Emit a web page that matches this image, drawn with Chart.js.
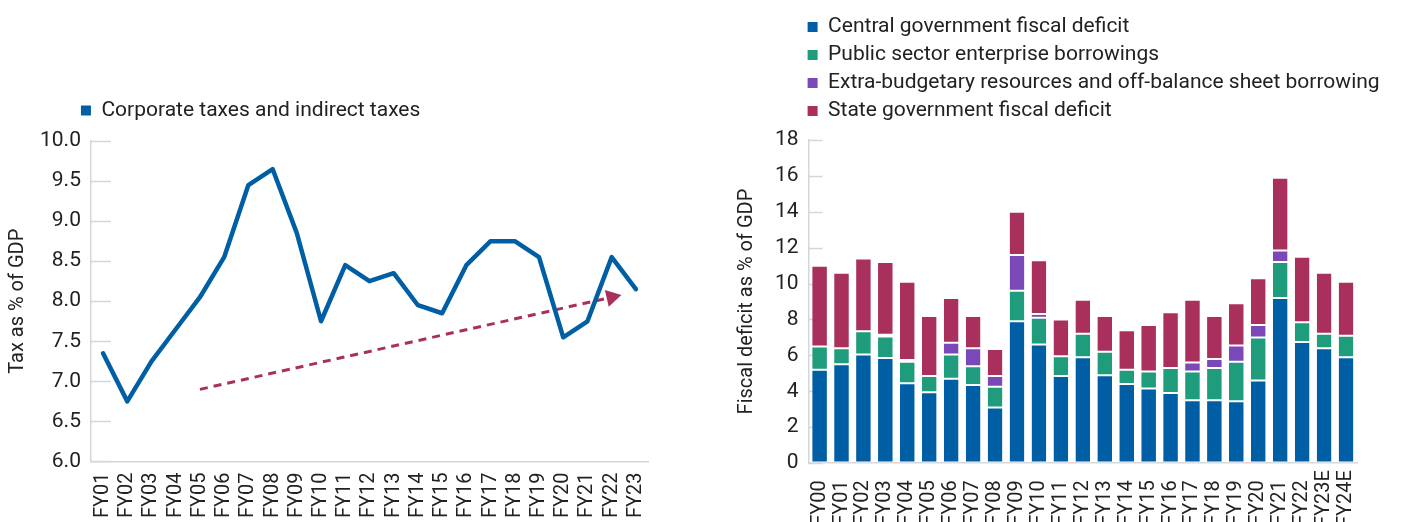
<!DOCTYPE html>
<html>
<head>
<meta charset="utf-8">
<script src="https://cdn.jsdelivr.net/npm/chart.js@4.4.1/dist/chart.umd.min.js"></script>
<style>
  body { margin:0; width:1408px; height:522px; overflow:hidden; position:relative; background:#fff; }
  .box { position:absolute; top:0; }
</style>
</head>
<body>
<div class="box" style="left:0;width:690px;height:529px"><canvas id="taxChart"></canvas></div>
<div class="box" style="left:700px;width:708px;height:534px"><canvas id="deficitChart"></canvas></div>
<script>
// left chart: tax as % of GDP
const taxYears = ['FY01','FY02','FY03','FY04','FY05','FY06','FY07','FY08','FY09','FY10','FY11','FY12',
  'FY13','FY14','FY15','FY16','FY17','FY18','FY19','FY20','FY21','FY22','FY23'];
const taxValues = [7.35,6.75,7.25,7.65,8.05,8.55,9.45,9.65,8.85,7.75,8.45,8.25,
  8.35,7.95,7.85,8.45,8.75,8.75,8.55,7.55,7.75,8.55,8.15];
// dashed trend arrow, FY05 -> FY22
const trendValues = [null,null,null,null,6.9,null,null,null,null,null,null,null,
  null,null,null,null,null,null,null,null,null,8.05,null];

// right chart: fiscal deficit as % of GDP
const fyLabels = ['FY00','FY01','FY02','FY03','FY04','FY05','FY06','FY07','FY08','FY09','FY10','FY11',
  'FY12','FY13','FY14','FY15','FY16','FY17','FY18','FY19','FY20','FY21','FY22','FY23E','FY24E'];
const centralDeficit = [5.2,5.5,6.05,5.85,4.45,3.95,4.7,4.35,3.1,7.9,6.6,4.85,
  5.9,4.9,4.4,4.15,3.9,3.5,3.5,3.45,4.6,9.2,6.75,6.4,5.9];
const pseBorrowings = [1.3,0.9,1.3,1.2,1.2,0.9,1.35,1.05,1.15,1.7,1.5,1.1,
  1.3,1.3,0.8,0.95,1.4,1.6,1.8,2.2,2.4,2.0,1.1,0.8,1.2];
const extraBudgetary = [0,0,0,0.1,0.1,0,0.65,1.0,0.6,2.0,0.2,0,
  0,0,0,0,0,0.5,0.5,0.9,0.7,0.65,0,0,0];
const stateDeficit = [4.5,4.2,4.05,4.05,4.35,3.35,2.5,1.8,1.5,2.4,3.0,2.05,
  1.9,2.0,2.2,2.6,3.1,3.5,2.4,2.35,2.6,4.05,3.65,3.4,3.0];

const BLUE = '#005fa4', GREEN = '#1f9c7b', PURPLE = '#7a49b7', RED = '#a9305c';
const AXIS = '#d3d7dc', TEXT = '#222';

Chart.defaults.font.family = 'Roboto';
Chart.defaults.color = TEXT;
Chart.defaults.animation = false;

// short tick marks drawn inward from the y axis
const innerTicks = {
  id: 'innerTicks',
  beforeDatasetsDraw(chart, args, opts) {
    const y = chart.scales.y, ctx = chart.ctx;
    ctx.save();
    ctx.strokeStyle = AXIS; ctx.lineWidth = 1.5;
    y.ticks.forEach((t, i) => {
      const py = Math.round(y.getPixelForTick(i)) + 0.5;
      ctx.beginPath(); ctx.moveTo(y.right, py); ctx.lineTo(y.right + opts.len, py); ctx.stroke();
    });
    ctx.restore();
  }
};
// nudge legend box after layout (and let long labels run past the plot)
const legendShift = {
  id: 'legendShift',
  afterLayout(chart, args, opts) {
    const l = chart.legend;
    if (!l) return;
    l.left += opts.dx || 0;
    l.right = chart.width;
    l.top += opts.dy || 0; l.bottom += opts.dy || 0;
  }
};

const tickFont = { size: 21 };
const plainBoxes = (chart) => Chart.defaults.plugins.legend.labels.generateLabels(chart)
  .map((l) => ({ ...l, lineWidth: 0, strokeStyle: 'transparent' }));
const legendLabels = { boxWidth: 10, boxHeight: 10, padding: 7, font: { size: 21 }, color: TEXT, generateLabels: plainBoxes };
const xTicks = (pad) => ({ font: { size: 20 }, color: TEXT, minRotation: 90, maxRotation: 90, autoSkip: false, padding: pad });
const axisLine = { color: AXIS, width: 1.5 };
const noGrid = { display: true, drawOnChartArea: false, drawTicks: false };

new Chart(document.getElementById('taxChart'), {
  type: 'line',
  data: {
    labels: taxYears,
    datasets: [
      { label: 'Corporate taxes and indirect taxes', data: taxValues, borderColor: BLUE, backgroundColor: BLUE,
        borderWidth: 4.5, pointRadius: 0, borderCapStyle: 'round', borderJoinStyle: 'round' },
      { label: 'trend', data: trendValues, spanGaps: true, borderColor: RED, backgroundColor: RED,
        borderWidth: 3, borderDash: [8, 6], pointStyle: 'triangle', pointRotation: 77, pointBorderWidth: 0,
        pointRadius: trendValues.map((v, i) => i === 21 ? 10 : 0) },
    ],
  },
  options: {
    responsive: true, maintainAspectRatio: false,
    layout: { padding: { top: 103, left: 6, right: 42 } },
    plugins: {
      legend: { position: 'top', align: 'start', fullSize: false,
        labels: { ...legendLabels, filter: (item) => item.text !== 'trend' } },
      tooltip: { enabled: false },
      innerTicks: { len: 20 },
      legendShift: { dx: -17, dy: -10 },
    },
    scales: {
      x: { offset: true, grid: noGrid, border: axisLine, ticks: xTicks(11) },
      y: {
        min: 6, max: 10,
        grid: noGrid, border: axisLine,
        ticks: { stepSize: 0.5, font: tickFont, color: TEXT, padding: 10, callback: (v) => v.toFixed(1) },
        title: { display: true, text: 'Tax as % of GDP', font: { size: 20 }, color: TEXT, padding: { top: 0, bottom: 0 } },
      },
    },
  },
  plugins: [innerTicks, legendShift],
});

const barSet = (label, data, color) => ({
  label, data, backgroundColor: color, borderColor: '#ffffff',
  borderWidth: { top: 1, bottom: 1, left: 0, right: 0 }, borderSkipped: false,
  barPercentage: 0.67, categoryPercentage: 1,
});

new Chart(document.getElementById('deficitChart'), {
  type: 'bar',
  data: {
    labels: fyLabels,
    datasets: [
      barSet('Central government fiscal deficit', centralDeficit, BLUE),
      barSet('Public sector enterprise borrowings', pseBorrowings, GREEN),
      barSet('Extra-budgetary resources and off-balance sheet borrowing', extraBudgetary, PURPLE),
      barSet('State government fiscal deficit', stateDeficit, RED),
    ],
  },
  options: {
    responsive: true, maintainAspectRatio: false,
    layout: { padding: { top: 18, left: 35, right: 51 } },
    plugins: {
      legend: { position: 'top', align: 'start', fullSize: false, labels: legendLabels },
      tooltip: { enabled: false },
      innerTicks: { len: 14 },
      legendShift: { dx: -8, dy: -8.5 },
    },
    scales: {
      x: { stacked: true, grid: noGrid, border: axisLine,
        ticks: { ...xTicks(7), callback: (v, i) => fyLabels[i].length < 5 ? fyLabels[i] + '\u2002' : fyLabels[i] } },
      y: {
        stacked: true, min: 0, max: 18,
        grid: noGrid, border: axisLine,
        ticks: { stepSize: 2, font: tickFont, color: TEXT, padding: 10 },
        title: { display: true, text: 'Fiscal deficit as % of GDP', font: { size: 20 }, color: TEXT, padding: { top: 0, bottom: 6 } },
      },
    },
  },
  plugins: [innerTicks, legendShift],
});
</script>
</body>
</html>
